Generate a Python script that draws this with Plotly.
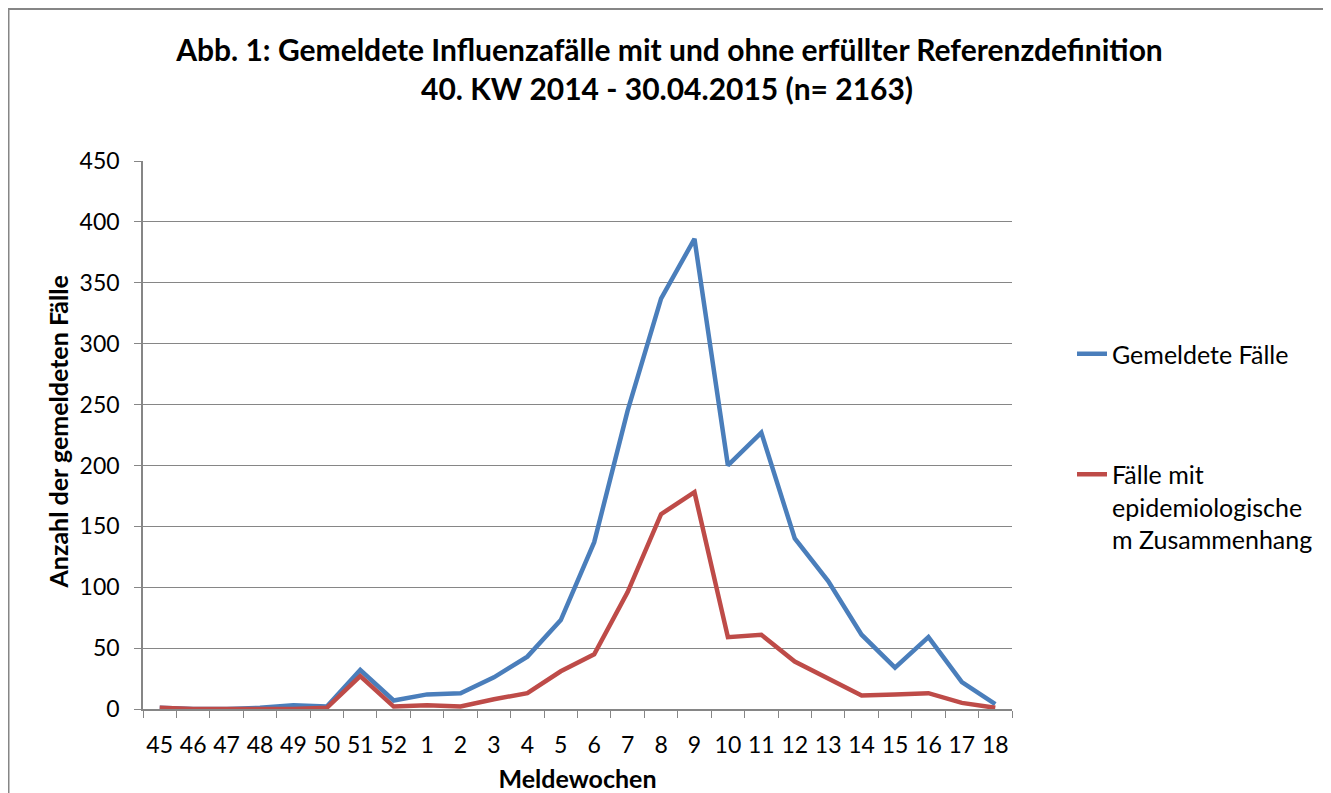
import plotly.graph_objects as go

weeks = ["45", "46", "47", "48", "49", "50", "51", "52", "1", "2", "3", "4", "5",
         "6", "7", "8", "9", "10", "11", "12", "13", "14", "15", "16", "17", "18"]
gemeldet = [1, 0, 0, 1, 3, 2, 32, 7, 12, 13, 26, 43, 73,
            137, 245, 337, 386, 200, 227, 140, 105, 61, 34, 59, 22, 4]
epi = [1, 0, 0, 0, 0, 1, 27, 2, 3, 2, 8, 13, 31,
       45, 96, 160, 178, 59, 61, 39, 25, 11, 12, 13, 5, 1]

BLUE = "#4A7EBB"
RED = "#BE4B48"
GRID = "#868686"
FONT = "Lato"

W, H = 1323, 785
L, R, T, B = 135, 319, 153, 84
PW, PH = W - L - R, H - T - B

fig = go.Figure()
fig.add_trace(go.Scatter(x=weeks, y=gemeldet, mode="lines", name="Gemeldete Fälle",
                         line=dict(color=BLUE, width=4.5), legendgroup="a"))
fig.add_trace(go.Scatter(x=weeks, y=epi, mode="lines",
                         name="Fälle mit<br>epidemiologische<br>m Zusammenhang",
                         line=dict(color=RED, width=4.5), legendgroup="b"))

fig.update_layout(
    width=W, height=H,
    margin=dict(l=L, r=R, t=T, b=B, autoexpand=False),
    paper_bgcolor="white", plot_bgcolor="white",
    font=dict(family=FONT, size=23, color="#000000"),
    title=dict(text="<b>Abb. 1: Gemeldete Influenzafälle mit und ohne erfüllter Referenzdefinition</b>",
               x=661.5 / W, xanchor="center", y=1 - 42 / H, yref="container", yanchor="middle",
               font=dict(family=FONT, size=30)),
    showlegend=True,
    legend=dict(x=(1064 - L) / PW, xanchor="left", y=(T + PH - 323) / PH, yanchor="top",
                valign="top", tracegroupgap=85, font=dict(family=FONT, size=25),
                bgcolor="rgba(0,0,0,0)"),
    xaxis=dict(type="category", range=[-0.5, len(weeks) - 0.5], tickson="boundaries",
               ticks="outside", ticklen=7,
               tickcolor=GRID, showline=True, linecolor=GRID, linewidth=1.5,
               showgrid=False, tickfont=dict(size=23), ticklabelstandoff=15, tickangle=0,
               automargin=False,
               title=dict(text="<b>Meldewochen</b>", font=dict(size=25), standoff=16)),
    yaxis=dict(range=[0, 450], dtick=50, ticks="outside", ticklen=7, tickcolor=GRID,
               showline=True, linecolor=GRID, linewidth=1.5, ticklabelstandoff=10,
               showgrid=True, gridcolor=GRID, gridwidth=1, zeroline=False,
               tickfont=dict(size=23), automargin=False),
)

fig.add_annotation(text="<b>Anzahl der gemeldeten Fälle</b>", xref="paper", yref="paper",
                   x=(49 - L) / PW, y=(T + PH - 424.5) / PH, xanchor="center", yanchor="middle",
                   textangle=-90, showarrow=False, font=dict(family=FONT, size=25))

fig.add_annotation(text="<b>40. KW 2014 - 30.04.2015 (n= 2163)</b>", xref="paper", yref="paper",
                   x=(659 - L) / PW, y=(T + PH - 80) / PH, xanchor="center", yanchor="middle",
                   showarrow=False, font=dict(family=FONT, size=30))

fig.add_shape(type="rect", xref="paper", yref="paper",
              x0=(0.5 - L) / PW, x1=(1321 - L) / PW,
              y0=(T + PH - 820) / PH, y1=(T + PH - 1) / PH,
              line=dict(color=GRID, width=2), fillcolor="rgba(0,0,0,0)", layer="below")

fig.write_html("out.html")
